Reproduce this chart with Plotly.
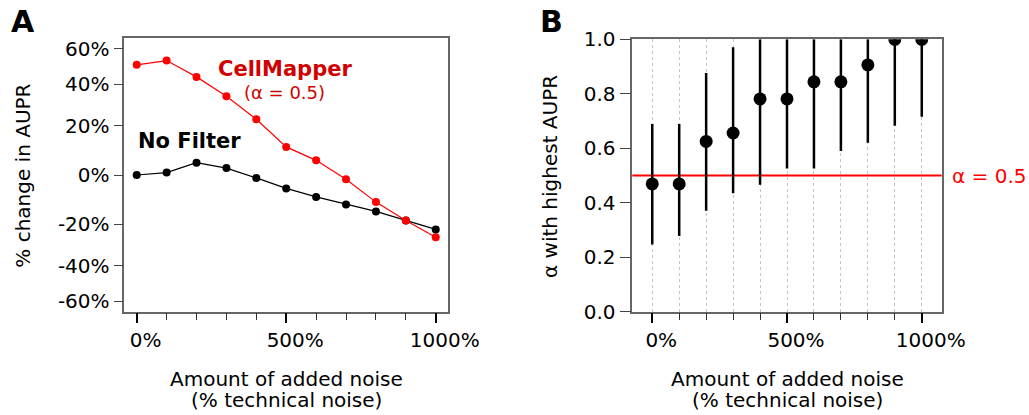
import numpy as np
import plotly.graph_objects as go

W, H = 1029, 415
FONT = "DejaVu Sans"

# ---- data -------------------------------------------------------------
noise_pct = [0, 100, 200, 300, 400, 500, 600, 700, 800, 900, 1000]

# panel A: % change in AUPR
cellmapper_change = [50.6, 53.0, 44.0, 34.0, 23.0, 11.0, 5.6, -1.6, -10.6, -18.4, -26.0]
nofilter_change = [0.0, 0.9, 4.7, 2.6, -1.1, -5.1, -8.5, -11.6, -14.5, -18.4, -22.4]

change_ticks = [-60, -40, -20, 0, 20, 40, 60]
change_tick_text = ["-60%", "-40%", "-20%", "0%", "20%", "40%", "60%"]

noise_major = [0, 500, 1000]
noise_major_text = ["0%", "500%", "1000%"]

# panel B: alpha giving the highest AUPR (median and spread)
alpha_median = [0.469, 0.469, 0.625, 0.656, 0.781, 0.781, 0.844, 0.844, 0.906, 1.0, 1.0]
alpha_low = [0.247, 0.278, 0.371, 0.435, 0.466, 0.526, 0.526, 0.590, 0.620, 0.683, 0.716]
alpha_high = [0.689, 0.689, 0.876, 0.971, 1.0, 1.0, 1.0, 1.0, 1.0, 1.0, 1.0]
alpha_ref = 0.5


def sym_log2(p):
    """Symmetric log2 fold-change scale for percent changes."""
    p = np.asarray(p, dtype=float)
    return np.sign(p) * np.log2(1 + np.abs(p) / 100.0)


def pxx(x):
    return x / W


def pxy(y):
    return 1 - y / H


med = np.array(alpha_median)
err_plus = np.array(alpha_high) - med
err_minus = med - np.array(alpha_low)

fig = go.Figure()

fig.add_trace(go.Scatter(
    x=noise_pct, y=sym_log2(nofilter_change), mode="lines+markers",
    line=dict(color="black", width=1.2), marker=dict(size=8, color="black"),
    xaxis="x", yaxis="y", showlegend=False, hoverinfo="skip"))
fig.add_trace(go.Scatter(
    x=noise_pct, y=sym_log2(cellmapper_change), mode="lines+markers",
    line=dict(color="#ff0000", width=1.2), marker=dict(size=8, color="#ff0000"),
    xaxis="x", yaxis="y", showlegend=False, hoverinfo="skip"))

fig.add_trace(go.Scatter(
    x=noise_pct, y=alpha_median, mode="markers",
    marker=dict(size=13, color="black"),
    error_y=dict(type="data", symmetric=False, array=err_plus, arrayminus=err_minus,
                 thickness=2.5, width=0, color="black"),
    xaxis="x2", yaxis="y2", showlegend=False, hoverinfo="skip"))

tickfont = dict(family=FONT, size=20, color="black")
box = dict(showline=True, linecolor="#666666", linewidth=1.5, mirror=True,
           zeroline=False, ticks="outside", tickfont=tickfont, automargin=False)

xa_common = dict(
    tickmode="array", tickvals=noise_major, ticktext=noise_major_text,
    ticklen=10, tickwidth=2, tickcolor="black", ticklabelshift=9,
    **box)
minor_ticks = dict(tickmode="array", tickvals=noise_pct, ticks="outside",
                   ticklen=7, tickwidth=1, tickcolor="#333333")

y0 = (H - 311.7) / H
fig.update_layout(
    width=W, height=H, autosize=False,
    margin=dict(l=0, r=0, t=0, b=0, pad=0),
    paper_bgcolor="white", plot_bgcolor="white",
    font=dict(family=FONT, color="black"),
    xaxis=dict(domain=[pxx(124.3), pxx(447.7)], range=[-41.5, 1040], anchor="y",
               showgrid=False, minor=minor_ticks, **xa_common),
    yaxis=dict(domain=[y0, (H - 38.3) / H], range=[-0.733, 0.733], anchor="x",
               tickmode="array", tickvals=sym_log2(change_ticks), ticktext=change_tick_text,
               ticklen=9, tickwidth=1, tickcolor="#444444", showgrid=False, **box),
    xaxis2=dict(domain=[pxx(632.3), pxx(941.7)], range=[-74, 1074], anchor="y2",
                showgrid=True, gridcolor="#c4c4c4", griddash="dot", gridwidth=1,
                minor=dict(showgrid=True, gridcolor="#c4c4c4", griddash="dot",
                           gridwidth=1, **minor_ticks),
                **xa_common),
    yaxis2=dict(domain=[y0, (H - 39.3) / H], range=[0, 1], anchor="x2",
                tickmode="linear", tick0=0, dtick=0.2, tickformat=".1f",
                ticklen=11, tickwidth=1, tickcolor="#444444", showgrid=False, **box),
)

# reference alpha line, under the error bars
fig.add_shape(type="line", xref="x2 domain", yref="y2", x0=0, x1=1,
              y0=alpha_ref, y1=alpha_ref, line=dict(color="#ff0000", width=2),
              layer="below")

ann = []


def text(x, y, s, size=20, color="black", bold=False, angle=0, xanchor="center"):
    ann.append(dict(x=pxx(x), y=pxy(y), xref="paper", yref="paper", text=s,
                    showarrow=False, xanchor=xanchor, yanchor="middle",
                    textangle=angle,
                    font=dict(family=FONT, size=size, color=color,
                              weight="bold" if bold else "normal")))


# panel letters
text(9, 22, "A", size=30, bold=True, xanchor="left")
text(538, 22, "B", size=30, bold=True, xanchor="left")

# series labels
text(284.5, 69, "CellMapper", size=21, color="#d00000", bold=True)
text(284.7, 92.5, "(α = 0.5)", size=18, color="#d00000")
text(189.5, 141, "No Filter", size=21, bold=True)
text(950, 176, "α = 0.5", size=20, color="#ff0000", xanchor="left")

# axis titles
for cx in (286, 787):
    text(cx, 378.5, "Amount of added noise")
    text(cx, 400, "(% technical noise)")
text(22.7, 176, "% change in AUPR", angle=-90)
text(550, 177, "α with highest AUPR", angle=-90)

fig.update_layout(annotations=ann)

fig.write_html("out.html")
